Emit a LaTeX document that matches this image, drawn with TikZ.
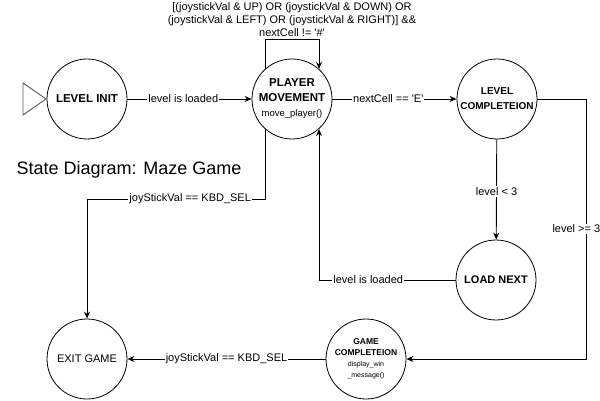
\documentclass[tikz,border=0pt]{standalone}
\usepackage{fontspec}
\setmainfont{Liberation Sans}
\usetikzlibrary{arrows.meta}

\begin{document}
\begin{tikzpicture}[
    x=1pt, y=-1pt,
    state/.style={circle, draw, line width=0.8pt, minimum size=80pt,
                  inner sep=0pt, align=center},
    boldstate/.style={state, font=\fontsize{11.5}{15}\selectfont\bfseries},
    lbl/.style={fill=white, inner sep=1pt, font=\fontsize{11}{13}\selectfont},
    arrow/.style={-{Stealth[length=7pt, width=6pt]}, line width=0.9pt}
]
    \useasboundingbox (0,0) rectangle (600,401);

    \node[boldstate] (levelinit) at (87,99) {LEVEL INIT};
    \node[boldstate] (player)    at (292,99) {PLAYER\\MOVEMENT\\{\fontsize{9.5}{15}\selectfont\mdseries move\_player()}};
    \node[state, font=\fontsize{10}{15}\selectfont\bfseries] (levelcomp) at (497,99) {LEVEL\\COMPLETEION};
    \node[boldstate, font=\fontsize{11}{15}\selectfont\bfseries] (loadnext) at (496,280) {LOAD NEXT};
    \node[state, font=\fontsize{11}{14}\selectfont] (exitgame) at (87,359) {EXIT GAME};
    \node[state, font=\fontsize{8.5}{11}\selectfont\bfseries] (gamecomp) at (366,359)
        {GAME\\COMPLETEION\\{\fontsize{7}{11}\selectfont\mdseries display\_win}\\{\fontsize{7}{11}\selectfont\mdseries \_message()}};

    \node[font=\fontsize{18}{20}\selectfont] (title) at (129,170) {State Diagram: Maze Game};

    \coordinate (exitbend) at (87,199);

    \draw[gray!70!black, line width=0.9pt] (23,83) -- (46,99) -- (23,115) -- cycle;

    \draw[arrow] (levelinit) -- node[lbl, pos=.45] {level is loaded} (player);
    \draw[arrow] (player) -- node[lbl, pos=.45] {nextCell == \textquotesingle E\textquotesingle} (levelcomp);
    \draw[arrow] (player.132) -- ++(0,-29.3) -| node[pos=.25, above, inner sep=1pt, yshift=2pt, align=center,
        font=\fontsize{11}{13}\selectfont]
        {[(joystickVal \& UP) OR (joystickVal \& DOWN) OR\\(joystickVal \& LEFT) OR (joystickVal \& RIGHT)] \&\&\\nextCell != \textquotesingle\#\textquotesingle} (player.48);
    \draw[arrow] (levelcomp) -- node[lbl, pos=.52] {level < 3} (loadnext);
    \draw[arrow] (loadnext.west) -| node[lbl, pos=.32] {level is loaded} (player.312);
    \draw[arrow] (levelcomp.east) -- ++(49,0) |- node[lbl, pos=.25, xshift=-10pt] {level >= 3} (gamecomp.east);
    \draw[arrow] (player.228) |- node[lbl, pos=.71] {joyStickVal == KBD\_SEL} (exitbend) -- (exitgame);
    \draw[arrow] (gamecomp) -- node[lbl] {joyStickVal == KBD\_SEL} (exitgame);
\end{tikzpicture}
\end{document}
